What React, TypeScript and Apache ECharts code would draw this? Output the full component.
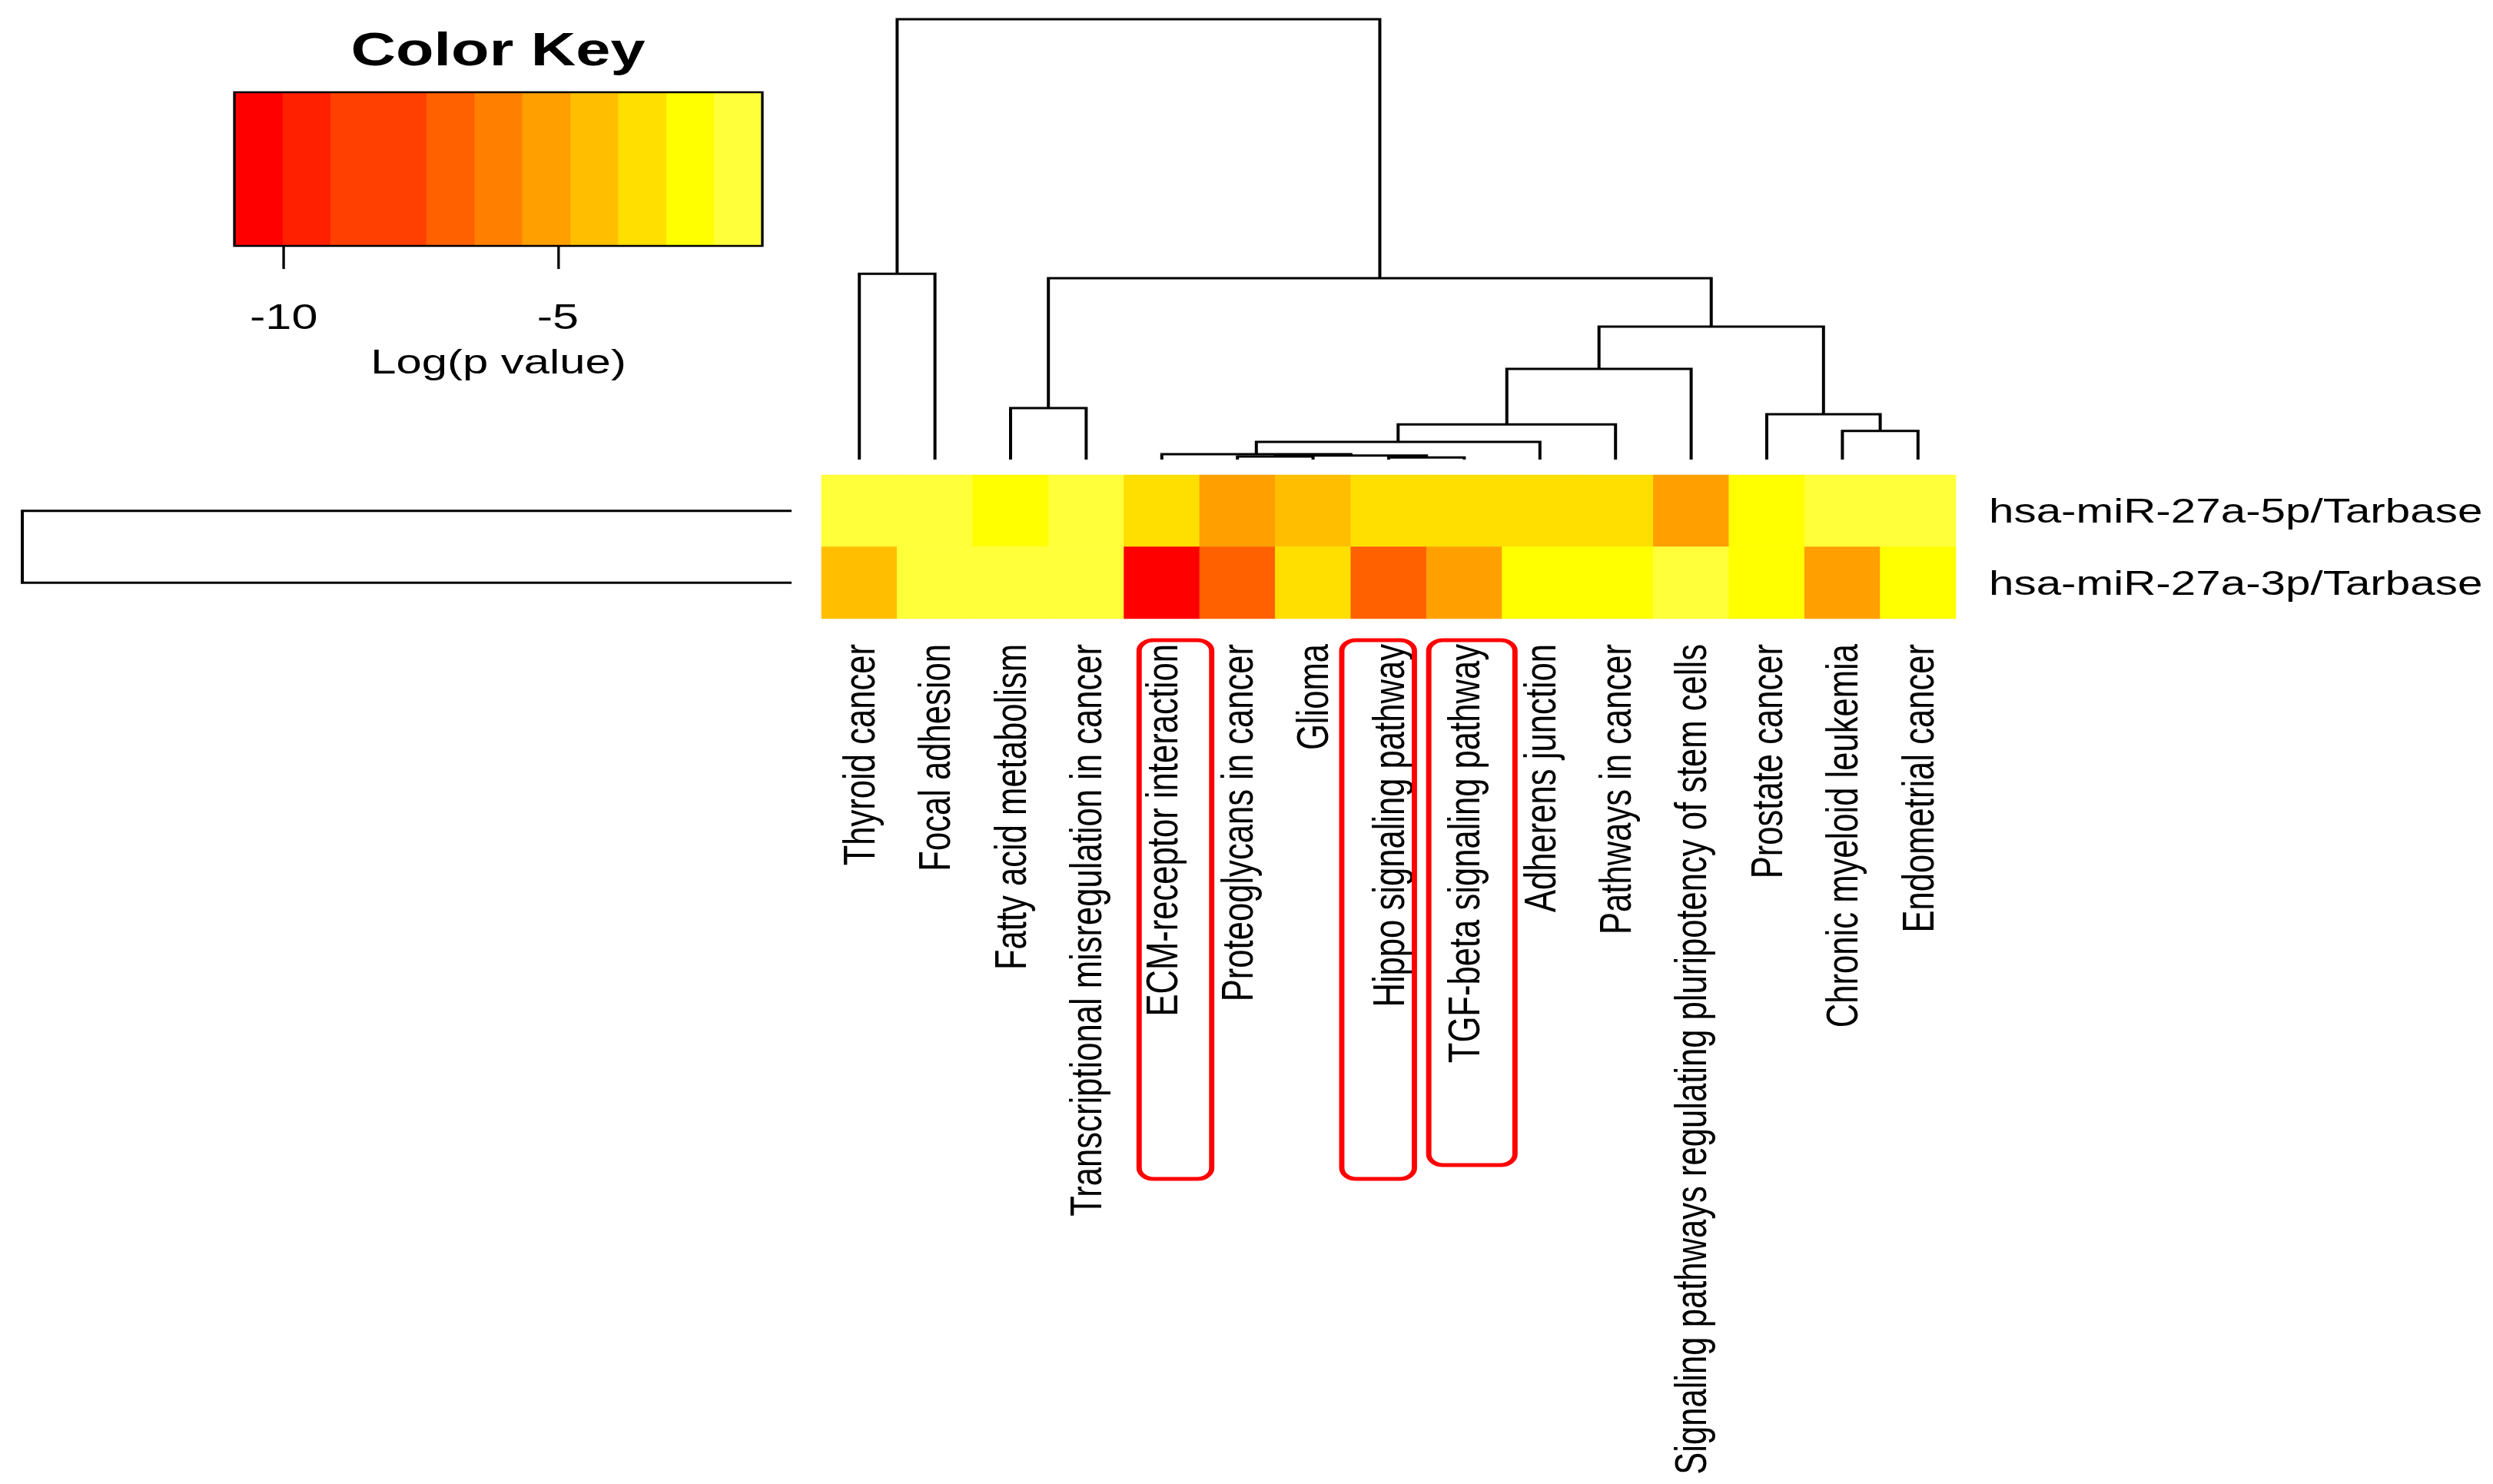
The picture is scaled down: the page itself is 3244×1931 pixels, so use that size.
import React, { useEffect, useRef } from "react";
import * as echarts from "echarts";

// ---------------- data ----------------
const columnLabels = [
  "Thyroid cancer",
  "Focal adhesion",
  "Fatty acid metabolism",
  "Transcriptional misregulation in cancer",
  "ECM-receptor interaction",
  "Proteoglycans in cancer",
  "Glioma",
  "Hippo signaling pathway",
  "TGF-beta signaling pathway",
  "Adherens junction",
  "Pathways in cancer",
  "Signaling pathways regulating pluripotency of stem cells",
  "Prostate cancer",
  "Chronic myeloid leukemia",
  "Endometrial cancer",
];
const rowLabels = ["hsa-miR-27a-5p/Tarbase", "hsa-miR-27a-3p/Tarbase"];

// Log(p value) per pathway, in column order
const logP5p = [-1.7, -1.8, -2.6, -1.9, -3.5, -5.3, -4.4, -3.4, -3.5, -3.3, -3.4, -5.2, -2.5, -1.8, -1.9];
const logP3p = [-4.4, -1.8, -1.7, -1.8, -10.6, -6.9, -3.6, -7.0, -5.3, -2.6, -2.5, -1.6, -2.7, -5.3, -2.6];

// colour key
const keyBreaks = [-10.9, -10.02, -9.15, -8.27, -7.4, -6.52, -5.65, -4.77, -3.9, -3.02, -2.15, -1.27];
const keyColors = [
  "#FF0000", "#FF2000", "#FF4000", "#FF4000", "#FF6000", "#FF8000",
  "#FF9F00", "#FFBF00", "#FFDF00", "#FFFF00", "#FFFF3A",
];
const keyTicks = [-10, -5];

// dendrograms: [left, right, height]
type Tree = string | [Tree, Tree, number];
const columnTree: Tree = [
  ["Thyroid cancer", "Focal adhesion", 4.22],
  [
    ["Fatty acid metabolism", "Transcriptional misregulation in cancer", 1.17],
    [
      [
        [
          [
            [
              "ECM-receptor interaction",
              [
                ["Proteoglycans in cancer", "Glioma", 0.07],
                ["Hippo signaling pathway", "TGF-beta signaling pathway", 0.05],
                0.09,
              ],
              0.12,
            ],
            "Adherens junction",
            0.4,
          ],
          "Pathways in cancer",
          0.8,
        ],
        "Signaling pathways regulating pluripotency of stem cells",
        2.06,
      ],
      ["Prostate cancer", ["Chronic myeloid leukemia", "Endometrial cancer", 0.65], 1.03],
      3.02,
    ],
    4.12,
  ],
  10,
];
const rowTree: Tree = [rowLabels[0], rowLabels[1], 1];

const highlighted = ["ECM-receptor interaction", "Hippo signaling pathway", "TGF-beta signaling pathway"];

// ---------------- layout ----------------
const S = 1.33; // the original figure is stretched horizontally
const W = 3244;
const H = 1931;
const ux = (v: number) => v / S;
const FONT = "'Liberation Sans', Arial, Helvetica, sans-serif";

// highlight boxes (offsets in column widths, y in px)
const boxLayout = [
  { left: -0.3, right: 0.66, top: 833, bottom: 1534 },
  { left: -0.62, right: 0.34, top: 833, bottom: 1534 },
  { left: -0.47, right: 0.67, top: 833, bottom: 1516 },
];

function flattenTree(tree: Tree, order: string[]) {
  const merges: number[][] = [];
  const walk = (n: Tree): [number, number] => {
    if (typeof n === "string") return [order.indexOf(n), 0];
    const a = walk(n[0]);
    const b = walk(n[1]);
    merges.push([a[0], a[1], b[0], b[1], n[2]]);
    return [(a[0] + b[0]) / 2, n[2]];
  };
  walk(tree);
  return merges;
}

export default function App() {
  const ref = useRef<HTMLDivElement>(null);

  useEffect(() => {
    const chart = echarts.init(ref.current!, null, { renderer: "svg" });

    const heatData: number[][] = [];
    [logP5p, logP3p].forEach((row, r) => row.forEach((v, c) => heatData.push([c, r, v])));

    const colMerges = flattenTree(columnTree, columnLabels);
    const rowMerges = flattenTree(rowTree, rowLabels);

    const lineStyle = { stroke: "#000", lineWidth: 3, fill: "none" };

    const option: any = {
      animation: false,
      backgroundColor: "#fff",
      grid: [
        { left: ux(1069), width: ux(1476), top: 618, height: 187, outerBoundsMode: "none" },
        { left: ux(1069), width: ux(1476), top: 25, height: 573, outerBoundsMode: "none" },
        { left: ux(29), width: ux(1001), top: 618, height: 187, outerBoundsMode: "none" },
        { left: ux(305), width: ux(687), top: 120, height: 200, outerBoundsMode: "none" },
      ],
      xAxis: [
        {
          gridIndex: 0,
          type: "category",
          data: columnLabels,
          position: "bottom",
          axisLine: { show: false },
          axisTick: { show: false },
          splitLine: { show: false },
          axisLabel: { interval: 0, rotate: 90, margin: 33, fontSize: 43.6, color: "#000", fontFamily: FONT },
        },
        { gridIndex: 1, type: "value", min: -0.5, max: columnLabels.length - 0.5, show: false },
        { gridIndex: 2, type: "value", min: 0, max: 1, inverse: true, show: false },
        {
          gridIndex: 3,
          type: "value",
          min: keyBreaks[0],
          max: keyBreaks[keyBreaks.length - 1],
          axisLine: { show: false },
          splitLine: { show: false },
          axisTick: { show: true, length: 30, customValues: keyTicks, lineStyle: { color: "#000", width: 2.5 } },
          axisLabel: { customValues: keyTicks, margin: 69, fontSize: 46, color: "#000", fontFamily: FONT },
          name: "Log(p value)",
          nameLocation: "middle",
          nameGap: 128,
          nameTextStyle: { fontSize: 45, color: "#000", fontFamily: FONT },
        },
      ],
      yAxis: [
        {
          gridIndex: 0,
          type: "category",
          data: rowLabels,
          inverse: true,
          position: "right",
          axisLine: { show: false },
          axisTick: { show: false },
          splitLine: { show: false },
          axisLabel: { margin: ux(43), fontSize: 43.9, color: "#000", fontFamily: FONT },
        },
        { gridIndex: 1, type: "value", min: 0, max: 10, show: false },
        { gridIndex: 2, type: "value", min: -0.5, max: rowLabels.length - 0.5, inverse: true, show: false },
        { gridIndex: 3, type: "value", min: 0, max: 1, show: false },
      ],
      visualMap: {
        type: "piecewise",
        show: false,
        seriesIndex: 0,
        dimension: 2,
        pieces: keyColors.map((c, i) => ({ min: keyBreaks[i], max: keyBreaks[i + 1], color: c })),
      },
      graphic: [
        {
          type: "text",
          x: ux(648),
          y: 64,
          style: {
            text: "Color Key",
            fontSize: 61,
            fontWeight: "bold",
            fontFamily: FONT,
            fill: "#000",
            align: "center",
            verticalAlign: "middle",
            textAlign: "center",
            textVerticalAlign: "middle",
          },
        },
      ],
      series: [
        {
          type: "heatmap",
          xAxisIndex: 0,
          yAxisIndex: 0,
          data: heatData,
          itemStyle: { borderWidth: 0 },
          emphasis: { disabled: true },
        },
        {
          type: "custom",
          xAxisIndex: 0,
          yAxisIndex: 0,
          clip: false,
          silent: true,
          z: 5,
          data: highlighted.map((n) => [columnLabels.indexOf(n), 0]),
          renderItem: (params: any, api: any) => {
            const b = boxLayout[params.dataIndex];
            const c = api.coord([api.value(0), 0]);
            const w = api.size([1, 0])[0];
            return {
              type: "rect",
              shape: { x: c[0] + b.left * w, y: b.top, width: (b.right - b.left) * w, height: b.bottom - b.top, r: 14 },
              style: { fill: "none", stroke: "#FF0000", lineWidth: 5.2 },
            };
          },
        },
        {
          type: "custom",
          xAxisIndex: 1,
          yAxisIndex: 1,
          clip: false,
          silent: true,
          data: colMerges,
          renderItem: (_p: any, api: any) => {
            const pts = [
              api.coord([api.value(0), api.value(1)]),
              api.coord([api.value(0), api.value(4)]),
              api.coord([api.value(2), api.value(4)]),
              api.coord([api.value(2), api.value(3)]),
            ];
            return { type: "polyline", shape: { points: pts }, style: lineStyle };
          },
        },
        {
          type: "custom",
          xAxisIndex: 2,
          yAxisIndex: 2,
          clip: false,
          silent: true,
          data: rowMerges,
          renderItem: (_p: any, api: any) => {
            const pts = [
              api.coord([api.value(1), api.value(0)]),
              api.coord([api.value(4), api.value(0)]),
              api.coord([api.value(4), api.value(2)]),
              api.coord([api.value(3), api.value(2)]),
            ];
            return { type: "polyline", shape: { points: pts }, style: lineStyle };
          },
        },
        {
          type: "custom",
          xAxisIndex: 3,
          yAxisIndex: 3,
          silent: true,
          data: keyColors.map((_c, i) => [keyBreaks[i], keyBreaks[i + 1], i]),
          renderItem: (params: any, api: any) => {
            const p0 = api.coord([api.value(0), 0]);
            const p1 = api.coord([api.value(1), 1]);
            return {
              type: "rect",
              shape: { x: p0[0], y: p1[1], width: p1[0] - p0[0] + 0.6, height: p0[1] - p1[1] },
              style: { fill: keyColors[params.dataIndex] },
            };
          },
        },
        {
          type: "custom",
          xAxisIndex: 3,
          yAxisIndex: 3,
          silent: true,
          z: 4,
          clip: false,
          data: [[keyBreaks[0], keyBreaks[keyBreaks.length - 1]]],
          renderItem: (_p: any, api: any) => {
            const p0 = api.coord([api.value(0), 0]);
            const p1 = api.coord([api.value(1), 1]);
            return {
              type: "rect",
              shape: { x: p0[0], y: p1[1], width: p1[0] - p0[0], height: p0[1] - p1[1] },
              style: { fill: "none", stroke: "#000", lineWidth: 2.5 },
            };
          },
        },
      ],
    };

    chart.setOption(option);
    return () => chart.dispose();
  }, []);

  return (
    <div
      style={{
        position: "absolute",
        left: 0,
        top: 0,
        width: W,
        height: H,
        overflow: "hidden",
        background: "#fff",
      }}
    >
      <div
        ref={ref}
        style={{ width: W / S, height: H, transform: `scaleX(${S})`, transformOrigin: "0 0" }}
      />
    </div>
  );
}
